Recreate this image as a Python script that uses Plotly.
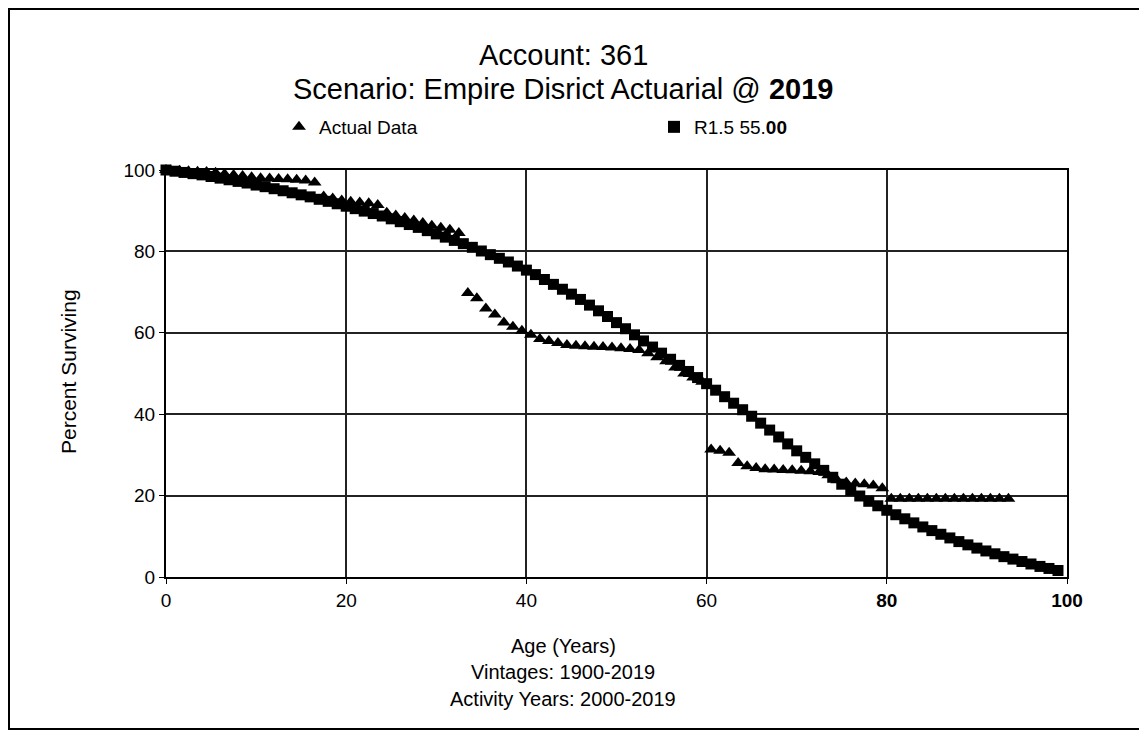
import plotly.graph_objects as go

# ---- data ----
actual_age = [0, 0.5, 1.5, 2.5, 3.5, 4.5, 5.5, 6.5, 7.5, 8.5, 9.5, 10.5, 11.5, 12.5, 13.5,
              14.5, 15.5, 16.5, 17.5, 18.5, 19.5, 20.5, 21.5, 22.5, 23.5, 24.5, 25.5, 26.5,
              27.5, 28.5, 29.5, 30.5, 31.5, 32.5, 33.5, 34.5, 35.5, 36.5, 37.5, 38.5, 39.5,
              40.5, 41.5, 42.5, 43.5, 44.5, 45.5, 46.5, 47.5, 48.5, 49.5, 50.5, 51.5, 52.5,
              53.5, 54.5, 55.5, 56.5, 57.5, 58.5, 59.5, 60.5, 61.5, 62.5, 63.5, 64.5, 65.5,
              66.5, 67.5, 68.5, 69.5, 70.5, 71.5, 72.5, 73.5, 74.5, 75.5, 76.5, 77.5, 78.5,
              79.5, 80.5, 81.5, 82.5, 83.5, 84.5, 85.5, 86.5, 87.5, 88.5, 89.5, 90.5, 91.5,
              92.5, 93.5]
actual_pct = [100, 99.9, 99.8, 99.7, 99.6, 99.5, 99.3, 99.0, 98.8, 98.5, 98.2, 98.0, 97.9,
              97.8, 97.7, 97.6, 97.4, 96.9, 93.5, 93.0, 92.5, 92.2, 92.0, 91.8, 91.4, 89.5,
              88.8, 88.2, 87.6, 87.0, 86.3, 85.8, 85.3, 84.5, 69.8, 68.5, 66.0, 64.5, 62.5,
              61.5, 60.5, 59.5, 58.5, 58.0, 57.5, 57.0, 56.8, 56.7, 56.6, 56.5, 56.4, 56.2,
              56.0, 55.8, 55.0, 54.0, 53.0, 51.5, 50.0, 49.0, 48.0, 31.3, 31.0, 30.5, 28.0,
              27.2, 26.8, 26.5, 26.4, 26.3, 26.2, 26.1, 26.0, 25.8, 25.0, 23.8, 23.2, 23.0,
              22.8, 22.5, 21.8, 19.2, 19.2, 19.2, 19.2, 19.2, 19.2, 19.2, 19.2, 19.2, 19.2,
              19.2, 19.2, 19.2, 19.2]

curve_age = list(range(0, 100))
curve_pct = [100, 99.7, 99.4, 99.1, 98.8, 98.4, 98.0, 97.6, 97.2, 96.8,
             96.3, 95.9, 95.4, 94.9, 94.4, 93.9, 93.4, 92.8, 92.3, 91.7,
             91.1, 90.5, 89.9, 89.3, 88.7, 88.0, 87.3, 86.6, 85.9, 85.1,
             84.3, 83.5, 82.7, 81.9, 81.0, 80.1, 79.2, 78.3, 77.4, 76.4,
             75.4, 74.3, 73.1, 71.9, 70.7, 69.5, 68.2, 66.8, 65.4, 64.0,
             62.5, 61.0, 59.5, 58.0, 56.5, 55.0, 53.5, 52.0, 50.5, 49.0,
             47.5, 45.9, 44.3, 42.7, 41.1, 39.5, 37.8, 36.1, 34.4, 32.7,
             31.0, 29.4, 27.8, 26.2, 24.5, 22.8, 21.3, 19.9, 18.6, 17.5,
             16.4, 15.3, 14.3, 13.3, 12.3, 11.4, 10.5, 9.6, 8.7, 7.9,
             7.1, 6.4, 5.7, 5.0, 4.4, 3.8, 3.2, 2.6, 2.1, 1.6]

x_ticks = [0, 20, 40, 60, 80, 100]
x_tick_text = ["0", "20", "40", "60", "<b>80</b>", "<b>100</b>"]
y_ticks = [0, 20, 40, 60, 80, 100]

FONT = "Liberation Sans, Arial, sans-serif"

fig = go.Figure()
fig.add_trace(go.Scatter(
    x=actual_age, y=actual_pct, mode="markers", name="Actual Data",
    marker=dict(symbol="triangle-up", size=12, color="black"),
    cliponaxis=False))
fig.add_trace(go.Scatter(
    x=curve_age, y=curve_pct, mode="markers", name="R1.5 55.<b>00</b>",
    marker=dict(symbol="square", size=11, color="black"),
    cliponaxis=False))

# page has an 8px body margin: figure coords = screen coords - 8
OFF = 8
W, H = 1147 - OFF, 734 - OFF
L, T = 166 - OFF, 170 - OFF
R = W - (1067 - OFF)
B = H - (577 - OFF)
pw, ph = W - L - R, H - T - B

def px(xs):
    return (xs - OFF - L) / pw

def py(ys):
    return (H - B - (ys - OFF)) / ph

fig.update_layout(
    width=W, height=H,
    margin=dict(l=L, r=R, t=T, b=B, pad=0),
    paper_bgcolor="white", plot_bgcolor="white",
    font=dict(family=FONT, color="black", size=19),
    showlegend=True,
    legend=dict(orientation="h", x=px(279), y=py(127), xanchor="left", yanchor="middle",
                entrywidth=330, entrywidthmode="pixels", itemsizing="constant",
                font=dict(size=19, family=FONT), bgcolor="rgba(0,0,0,0)"),
    xaxis=dict(range=[0, 100], tickvals=x_ticks, ticktext=x_tick_text,
               showgrid=True, gridcolor="#222", gridwidth=1.5,
               showline=True, linecolor="black", linewidth=2, mirror=True,
               ticks="outside", ticklen=5, tickcolor="black",
               zeroline=False, tickfont=dict(size=19)),
    yaxis=dict(range=[0, 100], tickvals=y_ticks,
               showgrid=True, gridcolor="#222", gridwidth=1.5,
               showline=True, linecolor="black", linewidth=2, mirror=True,
               ticks="outside", ticklen=5, tickcolor="black",
               zeroline=False, tickfont=dict(size=19)),
)

ann = []
ann.append(dict(text="Account: 361", x=px(563), y=py(55), xref="paper", yref="paper",
                xanchor="center", yanchor="middle",
                showarrow=False, font=dict(size=29, family=FONT)))
ann.append(dict(text="Scenario: Empire Disrict Actuarial @ <b>2019</b>", x=px(563), y=py(89),
                xref="paper", yref="paper", xanchor="center", yanchor="middle",
                showarrow=False, font=dict(size=29, family=FONT)))
for txt, yy in [("Age (Years)", 646), ("Vintages: 1900-2019", 672),
                ("Activity Years: 2000-2019", 699)]:
    ann.append(dict(text=txt, x=px(563), y=py(yy), xref="paper", yref="paper",
                    xanchor="center", yanchor="middle",
                    showarrow=False, font=dict(size=20, family=FONT)))
ann.append(dict(text="Percent Surviving", x=px(68), y=py(372), xref="paper", yref="paper",
                xanchor="center", yanchor="middle",
                showarrow=False, textangle=-90, font=dict(size=21, family=FONT)))
fig.update_layout(annotations=ann)

fig.add_shape(type="rect", xref="paper", yref="paper",
              x0=px(9), x1=px(1141), y0=py(729), y1=py(9),
              line=dict(color="black", width=2), fillcolor="rgba(0,0,0,0)", layer="below")

fig.write_html("out.html")
